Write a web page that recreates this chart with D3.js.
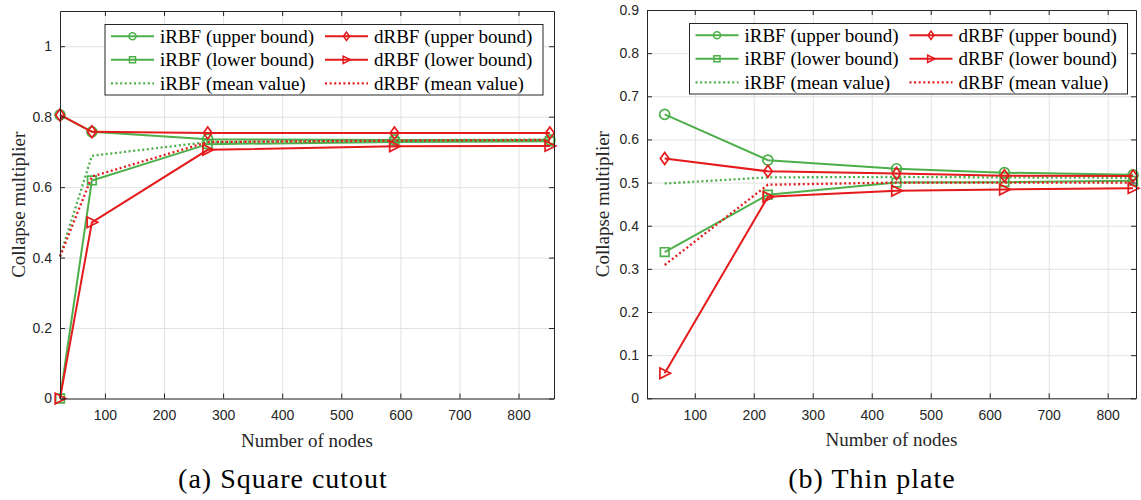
<!DOCTYPE html>
<html>
<head>
<meta charset="utf-8">
<script src="https://cdn.jsdelivr.net/npm/d3@7"></script>
<style>
  body { margin: 0; background: #fff; }
  svg { display: block; font-family: "Liberation Serif", "Times New Roman", serif; }
  .tick text { font-family: "Liberation Sans", Arial, sans-serif; font-size: 14px; fill: #262626; }
  .grid line { stroke: #e2e2e2; }
  .grid .domain { display: none; }
  .axis path, .axis line { stroke: #262626; }
</style>
</head>
<body>
<svg id="fig" width="1141" height="500"></svg>
<script>
// (a) square cutout
var nodesA   = [24, 78, 274, 590, 853];
var iUpperA  = [0.805, 0.757, 0.736, 0.734, 0.734];
var iLowerA  = [0, 0.619, 0.722, 0.728, 0.730];
var iMeanA   = [0.403, 0.689, 0.728, 0.733, 0.735];
var dUpperA  = [0.805, 0.757, 0.754, 0.754, 0.754];
var dLowerA  = [0, 0.500, 0.706, 0.716, 0.717];
var dMeanA   = [0.403, 0.630, 0.728, 0.732, 0.734];

// (b) thin plate
var nodesB   = [49, 224, 442, 625, 843];
var iUpperB  = [0.658, 0.552, 0.532, 0.523, 0.518];
var iLowerB  = [0.339, 0.472, 0.500, 0.501, 0.504];
var iMeanB   = [0.498, 0.512, 0.513, 0.512, 0.511];
var dUpperB  = [0.556, 0.526, 0.521, 0.516, 0.515];
var dLowerB  = [0.058, 0.467, 0.481, 0.484, 0.487];
var dMeanB   = [0.309, 0.495, 0.500, 0.500, 0.500];

var xTickValues = [100, 200, 300, 400, 500, 600, 700, 800];
var yTicksA = [0, 0.2, 0.4, 0.6, 0.8, 1];
var yTicksB = [0, 0.1, 0.2, 0.3, 0.4, 0.5, 0.6, 0.7, 0.8, 0.9];

var seriesNames = ["iRBF (upper bound)", "iRBF (lower bound)", "iRBF (mean value)",
                   "dRBF (upper bound)", "dRBF (lower bound)", "dRBF (mean value)"];

var green = "#4daf4a", red = "#e41a1c";
var styles = [
    {color: green, marker: "circle"},
    {color: green, marker: "square"},
    {color: green, dotted: true},
    {color: red, marker: "diamond"},
    {color: red, marker: "triangle"},
    {color: red, dotted: true}
];

function markerPath(type, k) {
    k = k || 1;
    var r;
    if (type == "circle") { r = 5 * k; return "M" + (-r) + ",0a" + r + "," + r + " 0 1,0 " + 2 * r + ",0a" + r + "," + r + " 0 1,0 " + (-2 * r) + ",0"; }
    if (type == "square") { r = 4.3 * k; return "M" + (-r) + "," + (-r) + "H" + r + "V" + r + "H" + (-r) + "Z"; }
    if (type == "diamond") { return "M0," + (-6 * k) + "L" + 4.3 * k + ",0L0," + 6 * k + "L" + (-4.3 * k) + ",0Z"; }
    if (type == "triangle") { return "M" + (-4.8 * k) + "," + (-5.3 * k) + "L" + 5.8 * k + ",0L" + (-4.8 * k) + "," + 5.3 * k + "Z"; }
    return "";
}

function collapsePanel() {

    var box = [60, 11, 554, 398.5]
        , xDomain
        , yDomain
        , yTickValues
        , yFormat = d3.format("~g")
        , nodes
        , values
        , caption
        , captionX
        , ylabelGap = 36
        ;

    function my(svg) {
        var width = box[2] - box[0]
            , height = box[3] - box[1]
            , g = svg.append("g").attr("transform", "translate(" + box[0] + "," + box[1] + ")");

        var x = d3.scaleLinear().domain(xDomain).range([0, width]);
        var y = d3.scaleLinear().domain(yDomain).range([height, 0]);

        // grid
        g.append("g")
            .attr("class", "grid")
            .attr("transform", "translate(0," + height + ")")
            .call(d3.axisBottom(x).tickValues(xTickValues).tickSizeInner(-height).tickSizeOuter(0).tickFormat(""));
        g.append("g")
            .attr("class", "grid")
            .call(d3.axisLeft(y).tickValues(yTickValues).tickSizeInner(-width).tickSizeOuter(0).tickFormat(""));

        var line = d3.line()
            .x(function(d) { return x(d[0]); })
            .y(function(d) { return y(d[1]); });

        var series = values.map(function(v, i) {
            return {style: styles[i], points: nodes.map(function(n, j) { return [n, v[j]]; })};
        });

        var sg = g.selectAll("g.series")
            .data(series)
            .enter()
            .append("g")
            .attr("class", "series");

        sg.append("path")
            .attr("fill", "none")
            .attr("stroke", function(d) { return d.style.color; })
            .attr("stroke-width", function(d) { return d.style.dotted ? 2.3 : 2; })
            .attr("stroke-dasharray", function(d) { return d.style.dotted ? "2,2.6" : null; })
            .attr("d", function(d) { return line(d.points); });

        sg.filter(function(d) { return d.style.marker; })
            .selectAll("path.marker")
            .data(function(d) { return d.points.map(function(p) { return {p: p, style: d.style}; }); })
            .enter()
            .append("path")
            .attr("class", "marker")
            .attr("fill", "none")
            .attr("stroke", function(d) { return d.style.color; })
            .attr("stroke-width", 1.7)
            .attr("transform", function(d) { return "translate(" + x(d.p[0]) + "," + y(d.p[1]) + ")"; })
            .attr("d", function(d) { return markerPath(d.style.marker); });

        // box with inward ticks
        g.append("g").attr("class", "axis")
            .attr("transform", "translate(0," + height + ")")
            .call(d3.axisBottom(x).tickValues(xTickValues).tickSizeInner(-5).tickSizeOuter(0).tickPadding(12));
        g.append("g").attr("class", "axis")
            .call(d3.axisTop(x).tickValues(xTickValues).tickSizeInner(-5).tickSizeOuter(0).tickFormat(""));
        g.append("g").attr("class", "axis")
            .call(d3.axisLeft(y).tickValues(yTickValues).tickSizeInner(-5).tickSizeOuter(0).tickPadding(8).tickFormat(yFormat));
        g.append("g").attr("class", "axis")
            .attr("transform", "translate(" + width + ",0)")
            .call(d3.axisRight(y).tickValues(yTickValues).tickSizeInner(-5).tickSizeOuter(0).tickFormat(""));

        // legend
        var lg = g.append("g").attr("transform", "translate(" + (45 + (width - 494) / 2) + ",13.5)");
        lg.append("rect")
            .attr("width", 438).attr("height", 70.5)
            .attr("fill", "#fff").attr("stroke", "#262626").attr("stroke-width", 1);

        var item = lg.selectAll("g.item")
            .data(seriesNames)
            .enter()
            .append("g")
            .attr("class", "item")
            .attr("transform", function(d, i) { return "translate(" + (i < 3 ? 0 : 214) + "," + (11.8 + (i % 3) * 23.5) + ")"; });

        item.append("line")
            .attr("x1", 6).attr("x2", 49)
            .attr("stroke", function(d, i) { return styles[i].color; })
            .attr("stroke-width", function(d, i) { return styles[i].dotted ? 2.3 : 2; })
            .attr("stroke-dasharray", function(d, i) { return styles[i].dotted ? "2,2.6" : null; });
        item.append("path")
            .attr("transform", "translate(27.5,0)")
            .attr("fill", "none")
            .attr("stroke", function(d, i) { return styles[i].color; })
            .attr("stroke-width", 1.5)
            .attr("d", function(d, i) { return markerPath(styles[i].marker, 0.7); });
        item.append("text")
            .attr("x", 55).attr("y", 6.5)
            .style("font-size", "19px")
            .attr("fill", "#000")
            .text(function(d) { return d; });

        // titles
        g.append("text")
            .attr("x", width / 2).attr("y", height + 48)
            .attr("text-anchor", "middle")
            .style("font-size", "19px").attr("fill", "#262626")
            .text("Number of nodes");
        g.append("text")
            .attr("transform", "translate(" + (-ylabelGap) + "," + height / 2 + ") rotate(-90)")
            .attr("text-anchor", "middle")
            .style("font-size", "19px").attr("fill", "#262626")
            .text("Collapse multiplier");

        svg.append("text")
            .attr("x", captionX).attr("y", 488)
            .attr("text-anchor", "middle")
            .style("font-size", "28px").style("letter-spacing", "1px")
            .attr("fill", "#000")
            .text(caption);
    }

    my.box = function(v) { if (!arguments.length) return box; box = v; return my; };
    my.xDomain = function(v) { if (!arguments.length) return xDomain; xDomain = v; return my; };
    my.yDomain = function(v) { if (!arguments.length) return yDomain; yDomain = v; return my; };
    my.yTickValues = function(v) { if (!arguments.length) return yTickValues; yTickValues = v; return my; };
    my.nodes = function(v) { if (!arguments.length) return nodes; nodes = v; return my; };
    my.values = function(v) { if (!arguments.length) return values; values = v; return my; };
    my.caption = function(v, cx) { caption = v; captionX = cx; return my; };
    my.ylabelGap = function(v) { if (!arguments.length) return ylabelGap; ylabelGap = v; return my; };

    return my;
}

var svg = d3.select("#fig");
svg.append("rect").attr("width", 1141).attr("height", 500).attr("fill", "#fff");

svg.call(collapsePanel()
    .box([60, 11, 554, 398.5])
    .xDomain([24, 860])
    .yDomain([0, 1.1])
    .yTickValues(yTicksA)
    .nodes(nodesA)
    .values([iUpperA, iLowerA, iMeanA, dUpperA, dLowerA, dMeanA])
    .ylabelGap(35)
    .caption("(a) Square cutout", 283));

svg.call(collapsePanel()
    .box([647, 10, 1136, 398.3])
    .xDomain([19, 848])
    .yDomain([0, 0.9])
    .yTickValues(yTicksB)
    .nodes(nodesB)
    .values([iUpperB, iLowerB, iMeanB, dUpperB, dLowerB, dMeanB])
    .ylabelGap(38)
    .caption("(b) Thin plate", 872));
</script>
</body>
</html>
